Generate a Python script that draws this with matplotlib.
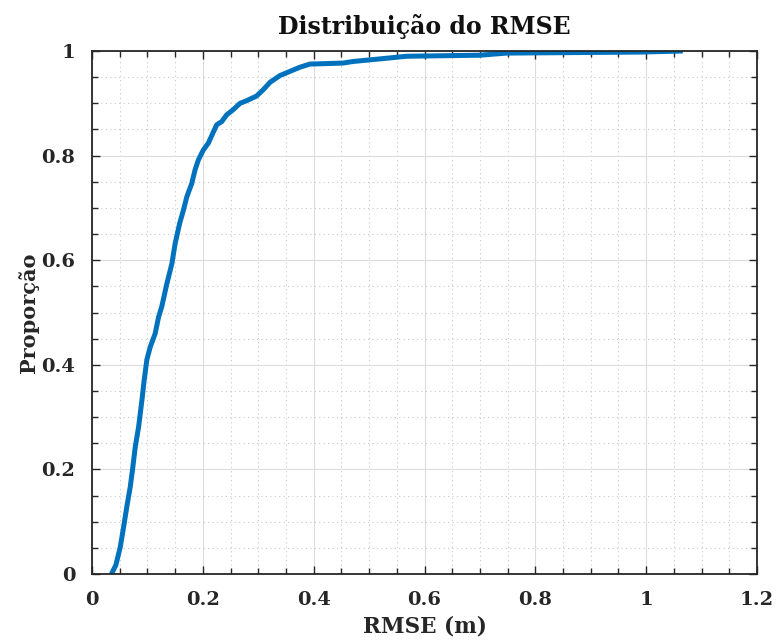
import numpy as np
import matplotlib
matplotlib.use("Agg")
import matplotlib.pyplot as plt
from matplotlib.ticker import MultipleLocator

rmse = [0.035, 0.043, 0.051, 0.057, 0.063, 0.069, 0.073, 0.078, 0.084, 0.090,
        0.094, 0.099, 0.105, 0.114, 0.120, 0.126, 0.135, 0.144, 0.150, 0.158,
        0.165, 0.171, 0.180, 0.186, 0.192, 0.201, 0.210, 0.218, 0.225, 0.234,
        0.243, 0.255, 0.267, 0.279, 0.297, 0.309, 0.321, 0.339, 0.357, 0.375,
        0.393, 0.453, 0.471, 0.520, 0.568, 0.700, 0.748, 0.989, 1.066]
prop = [0.000, 0.017, 0.052, 0.090, 0.130, 0.167, 0.199, 0.243, 0.281, 0.332,
        0.370, 0.410, 0.434, 0.460, 0.491, 0.512, 0.555, 0.593, 0.632, 0.670,
        0.696, 0.721, 0.747, 0.773, 0.792, 0.811, 0.824, 0.843, 0.859, 0.865,
        0.878, 0.888, 0.900, 0.905, 0.914, 0.926, 0.940, 0.953, 0.961, 0.969,
        0.975, 0.977, 0.980, 0.985, 0.990, 0.992, 0.996, 0.998, 1.000]

xticks = [0, 0.2, 0.4, 0.6, 0.8, 1, 1.2]
yticks = [0, 0.2, 0.4, 0.6, 0.8, 1]

plt.rcParams['font.family'] = ['DejaVu Serif']
plt.rcParams['font.weight'] = 'bold'
ink = '#262626'

fig = plt.figure(figsize=(7.76, 6.41), dpi=100)
ax = fig.add_axes([0.1186, 0.1045, 0.8569, 0.8159])

ax.plot(rmse, prop, color='#0072BD', lw=3.6, solid_capstyle='butt')

ax.set_xlim(0, 1.2)
ax.set_ylim(0, 1)
ax.set_xticks(xticks)
ax.set_yticks(yticks)
ax.set_xticklabels([f'{t:g}' for t in xticks])
ax.set_yticklabels([f'{t:g}' for t in yticks])
ax.xaxis.set_minor_locator(MultipleLocator(0.05))
ax.yaxis.set_minor_locator(MultipleLocator(0.05))

ax.grid(which='major', color='#dcdcdc', lw=0.8)
ax.grid(which='minor', color='#c8c8c8', lw=0.8, ls=(0, (1, 3)))
ax.set_axisbelow(True)

ax.tick_params(which='both', direction='in', top=True, right=True,
               color=ink, labelcolor=ink, labelsize=14, width=1.0)
ax.tick_params(which='major', length=5.5, pad=12)
ax.tick_params(which='minor', length=4)
for s in ax.spines.values():
    s.set_color(ink)
    s.set_linewidth(1.3)

ax.set_title('Distribuição do RMSE', fontsize=17, fontweight='bold', color='#111111', pad=12)
ax.set_xlabel('RMSE (m)', fontsize=15.5, fontweight='bold', color=ink, labelpad=5)
ax.set_ylabel('Proporção', fontsize=15, fontweight='bold', color=ink, labelpad=2)

fig.savefig('out.png', dpi=100)
